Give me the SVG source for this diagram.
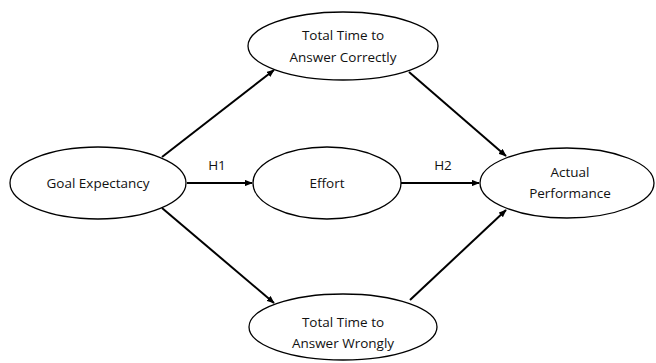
<svg xmlns="http://www.w3.org/2000/svg" width="656" height="363" viewBox="0 0 656 363">
<style>
.n{fill:#fff;stroke:#000;stroke-width:1.3}
.t{font-family:"Open Sans","Liberation Sans",sans-serif;font-size:13.5px;fill:#111;text-anchor:middle}
.c{stroke:#000;stroke-width:2;fill:none;marker-end:url(#ah)}
</style>
<defs>
<marker id="ah" viewBox="0 0 10 8" refX="9" refY="4" markerWidth="4" markerHeight="3.2" orient="auto" markerUnits="strokeWidth">
<path d="M0,0 L10,4 L0,8 z" fill="#000"/>
</marker>
</defs>
<rect width="656" height="363" fill="#fff"/>
<g id="connectors">
<line class="c" x1="187" y1="183" x2="252" y2="183"/>
<line class="c" x1="401" y1="183" x2="479" y2="183"/>
<line class="c" x1="162" y1="157" x2="274" y2="70"/>
<line class="c" x1="162" y1="208" x2="274" y2="303"/>
<line class="c" x1="409" y1="72" x2="506" y2="156"/>
<line class="c" x1="410" y1="300" x2="506" y2="210"/>
<text class="t" x="217" y="170">H1</text>
<text class="t" x="443" y="170">H2</text>
</g>
<g id="goal">
<ellipse class="n" cx="98" cy="183" rx="88" ry="36"/>
<text class="t" x="98" y="188">Goal Expectancy</text>
</g>
<g id="correct">
<ellipse class="n" cx="343" cy="46" rx="95" ry="34"/>
<text class="t" x="343" y="40">Total Time to</text>
<text class="t" x="343" y="62">Answer Correctly</text>
</g>
<g id="effort">
<ellipse class="n" cx="327" cy="183" rx="74" ry="36"/>
<text class="t" x="327" y="188">Effort</text>
</g>
<g id="wrong">
<ellipse class="n" cx="343" cy="327" rx="94" ry="33"/>
<text class="t" x="343" y="327">Total Time to</text>
<text class="t" x="343" y="348">Answer Wrongly</text>
</g>
<g id="performance">
<ellipse class="n" cx="567" cy="183" rx="87" ry="35"/>
<text class="t" x="570" y="177">Actual</text>
<text class="t" x="570" y="198">Performance</text>
</g>
</svg>
